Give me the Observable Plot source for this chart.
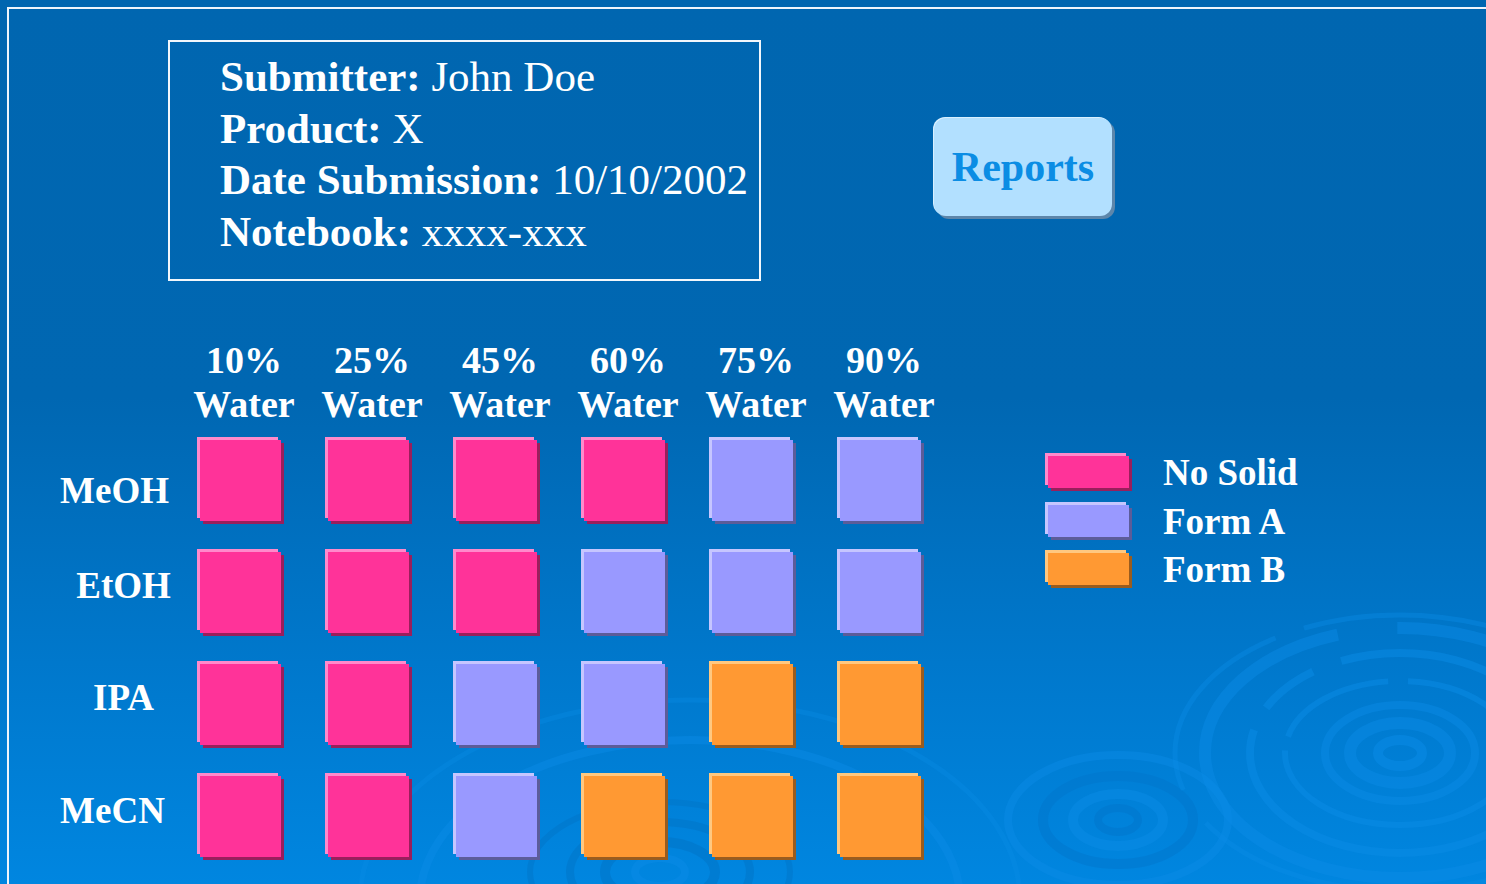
<!DOCTYPE html>
<html>
<head>
<meta charset="utf-8">
<script src="https://cdn.jsdelivr.net/npm/d3@7"></script>
<script src="https://cdn.jsdelivr.net/npm/@observablehq/plot@0.6"></script>
<style>
  html, body { margin: 0; padding: 0; }
  body {
    width: 1486px; height: 884px; position: relative; overflow: hidden;
    background: linear-gradient(180deg, #0066b0 0%, #0067b2 45%, #0078cc 75%, #0086e0 100%);
    font-family: "Liberation Serif", "Times New Roman", serif;
    color: #fff;
  }
  #bg { position: absolute; left: 0; top: 0; }
  #chart { position: absolute; left: 0; top: 0; }
  #info {
    position: absolute; left: 168px; top: 40px; width: 589px; height: 237px;
    border: 2px solid #f2f7fc;
  }
  #info .lines { position: absolute; left: 50px; top: 9px; font-size: 43px; line-height: 51.5px; white-space: nowrap; }
  #info b { font-weight: bold; }
  #reports {
    position: absolute; left: 934px; top: 118px; width: 178px; height: 98px;
    background: #b2e0ff; border-radius: 12px;
    box-shadow: 3px 3px 0 #5d86aa, -1px -1px 0 #d8f0ff;
    display: flex; align-items: center; justify-content: center;
    font-size: 42px; line-height: 42px; font-weight: bold; color: #0b8de4;
  }
  .lg-sw { position: absolute; left: 1048px; width: 81px; height: 32px; }
  .lg-tx { position: absolute; left: 1163px; font-size: 37px; line-height: 36px; font-weight: bold; white-space: nowrap; }
</style>
</head>
<body>
<svg id="bg" width="1486" height="884">
  <g fill="none">
    <!-- big ripple, lower right -->
    <ellipse cx="1400" cy="753" rx="22" ry="13" stroke="#0a8be6" stroke-width="10" opacity="0.55"/>
    <ellipse cx="1400" cy="753" rx="50" ry="30" stroke="#0a8be6" stroke-width="12" opacity="0.45"/>
    <ellipse cx="1400" cy="753" rx="75" ry="48" stroke="#0a8be6" stroke-width="8" opacity="0.45"/>
    <ellipse cx="1400" cy="753" rx="115" ry="72" stroke="#0a8be6" stroke-width="6" opacity="0.5" stroke-dasharray="300 14 120 20"/>
    <ellipse cx="1400" cy="753" rx="150" ry="100" stroke="#0a8be6" stroke-width="8" opacity="0.5" stroke-dasharray="420 25 60 30"/>
    <ellipse cx="1400" cy="753" rx="195" ry="125" stroke="#0a8be6" stroke-width="12" opacity="0.45" stroke-dasharray="700 60"/>
    <ellipse cx="1400" cy="753" rx="225" ry="138" stroke="#0a8be6" stroke-width="5" opacity="0.4" stroke-dasharray="500 40 200 30"/>
    <!-- small ripple -->
    <ellipse cx="1118" cy="820" rx="20" ry="12" stroke="#0076cc" stroke-width="8" opacity="0.55"/>
    <ellipse cx="1118" cy="820" rx="45" ry="26" stroke="#0a8be6" stroke-width="10" opacity="0.5"/>
    <ellipse cx="1118" cy="820" rx="75" ry="44" stroke="#0076cc" stroke-width="10" opacity="0.5"/>
    <ellipse cx="1118" cy="820" rx="110" ry="65" stroke="#0a8be6" stroke-width="8" opacity="0.45"/>
    <!-- ripple below grid -->
    <ellipse cx="660" cy="872" rx="25" ry="14" stroke="#0a8be6" stroke-width="8" opacity="0.55"/>
    <ellipse cx="660" cy="872" rx="55" ry="30" stroke="#0074c6" stroke-width="10" opacity="0.55"/>
    <ellipse cx="660" cy="872" rx="90" ry="50" stroke="#0074c6" stroke-width="8" opacity="0.5"/>
    <ellipse cx="660" cy="872" rx="130" ry="70" stroke="#0074c6" stroke-width="6" opacity="0.45"/>
    <ellipse cx="690" cy="900" rx="270" ry="160" stroke="#0a8be6" stroke-width="8" opacity="0.45"/>
    <ellipse cx="690" cy="900" rx="330" ry="200" stroke="#0a8be6" stroke-width="5" opacity="0.35"/>
  </g>
  <rect x="8" y="8" width="1500" height="900" fill="none" stroke="#eef5fc" stroke-width="2"/>
</svg>
<div id="chart"></div>
<div id="info"><div class="lines">
  <div><b>Submitter:</b> John Doe</div>
  <div><b>Product:</b> X</div>
  <div><b>Date Submission:</b> 10/10/2002</div>
  <div><b>Notebook:</b> xxxx-xxx</div>
</div></div>
<div id="reports">Reports</div>
<div id="legend"></div>
<script>
// ---- data ----
const solvents = ["MeOH", "EtOH", "IPA", "MeCN"];
const waterPct = ["10%", "25%", "45%", "60%", "75%", "90%"];
const forms = ["No Solid", "Form A", "Form B"];
const meohOutcome = ["No Solid", "No Solid", "No Solid", "No Solid", "Form A", "Form A"];
const etohOutcome = ["No Solid", "No Solid", "No Solid", "Form A", "Form A", "Form A"];
const ipaOutcome  = ["No Solid", "No Solid", "Form A", "Form A", "Form B", "Form B"];
const mecnOutcome = ["No Solid", "No Solid", "Form A", "Form B", "Form B", "Form B"];

// ---- styles ----
const mainColor   = {"No Solid": "#ff3399", "Form A": "#9999ff", "Form B": "#ff9933"};
const lightColor  = {"No Solid": "#ff8acb", "Form A": "#c6c6ff", "Form B": "#ffc880"};
const shadowColor = {"No Solid": "#991f5c", "Form A": "#5c5c99", "Form B": "#995c1f"};

const outcomes = [meohOutcome, etohOutcome, ipaOutcome, mecnOutcome];
const cells = [];
solvents.forEach((s, i) => waterPct.forEach((w, j) => cells.push({solvent: s, water: w, form: outcomes[i][j]})));

const cellMarks = [];
for (const [shade, off] of [[shadowColor, 3], [lightColor, -3], [mainColor, 0]]) {
  for (const f of forms) {
    cellMarks.push(Plot.cell(cells.filter(d => d.form === f), {
      x: "water", y: "solvent", fill: shade[f], dx: off, dy: off, inset: 0
    }));
  }
}

const font = {fontFamily: "Liberation Serif, Times New Roman, serif", fontWeight: "bold", fill: "white"};

const chart = Plot.plot({
  width: 1486, height: 884, margin: 0,
  x: {type: "band", domain: waterPct, range: [176.5, 944.5], paddingInner: 47/128, paddingOuter: 23.5/128, round: false, axis: null},
  y: {type: "band", domain: solvents, range: [424.5, 872.5], paddingInner: 31/112, paddingOuter: 15.5/112, round: false, axis: null},
  style: {background: "transparent", overflow: "visible"},
  marks: [
    ...cellMarks,
    Plot.text(waterPct, {x: d => d, text: d => d + "\nWater", frameAnchor: "top", dy: 380.5, dx: 3,
      lineAnchor: "middle", lineHeight: 44/38, fontSize: 38, ...font}),
    Plot.text(solvents, {filter: (d, i) => i === 0, y: d => d, text: d => d, frameAnchor: "left", dx: 114, dy: 10, textAnchor: "middle", fontSize: 37, ...font}),
    Plot.text(solvents, {filter: (d, i) => i === 1 || i === 2, y: d => d, text: d => d, frameAnchor: "left", dx: 123, dy: -7, textAnchor: "middle", fontSize: 37, ...font}),
    Plot.text(solvents, {filter: (d, i) => i === 3, y: d => d, text: d => d, frameAnchor: "left", dx: 112, dy: -6, textAnchor: "middle", fontSize: 37, ...font})
  ]
});
document.getElementById("chart").appendChild(chart);

// ---- legend ----
const legend = document.getElementById("legend");
const swTop = [456, 505, 553];
forms.forEach((f, i) => {
  const sw = document.createElement("div");
  sw.className = "lg-sw";
  sw.style.top = swTop[i] + "px";
  sw.style.background = mainColor[f];
  sw.style.boxShadow = `3px 3px 0 ${shadowColor[f]}, -3px -3px 0 ${lightColor[f]}`;
  legend.appendChild(sw);
  const tx = document.createElement("div");
  tx.className = "lg-tx";
  tx.style.top = (swTop[i] - 1) + "px";
  tx.textContent = f;
  legend.appendChild(tx);
});
</script>
</body>
</html>
